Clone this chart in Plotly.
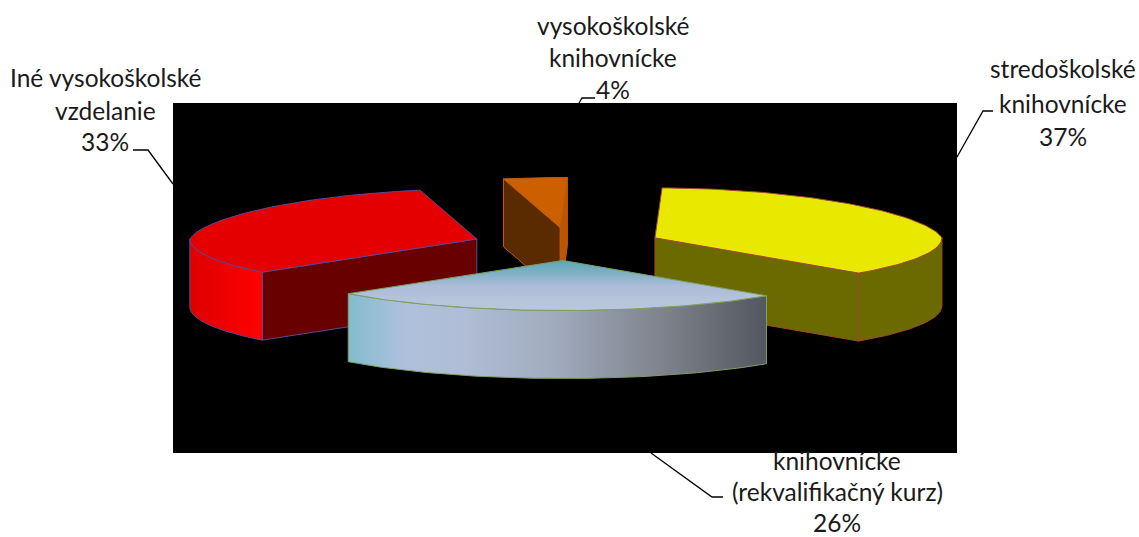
import numpy as np
import plotly.graph_objects as go

categories = ["vysokoškolské knihovnícke", "stredoškolské knihovnícke",
              "stredoškolské knihovnícke (rekvalifikačný kurz)", "Iné vysokoškolské vzdelanie"]
values = [4, 37, 26, 33]
label_lines = [["vysokoškolské", "knihovnícke"],
               ["stredoškolské", "knihovnícke"],
               ["knihovnícke", "(rekvalifikačný kurz)"],
               ["Iné vysokoškolské", "vzdelanie"]]

# drawing geometry of the tilted, exploded pie
CX, CY, RX, RY, DEPTH, EXPLODE = 565.5, 244, 287, 50, 68, 0.33
START = -12.8
BACK_NARROW = 0.11
SLICE_SHIFT_X = [4, 1.5, 0, 1.5]
FONT = "Lato"
FS = 24.5

top_styles = [
    dict(fillcolor="#cc6000"),
    dict(fillcolor="#e8e800"),
    dict(fillgradient=dict(type="vertical", start=260, stop=312,
                           colorscale=[[0, "#5aa5b8"], [0.25, "#7fb0c4"], [0.5, "#adbcd8"], [1, "#bcc9dd"]])),
    dict(fillcolor="#e40000"),
]
arc_styles = [
    dict(fillcolor="#bb5500"),
    dict(fillcolor="#6a6a00"),
    dict(fillgradient=dict(type="horizontal", start=345, stop=764,
                           colorscale=[[0, "#7fbccc"], [0.14, "#aec0dc"], [0.28, "#b0bdd6"],
                                       [0.5, "#a0abbd"], [0.75, "#7f848e"], [1, "#545860"]])),
    dict(fillgradient=dict(type="horizontal", start=188, stop=260,
                           colorscale=[[0, "#dc0000"], [1, "#ff0000"]])),
]
start_face = ["#5a2a00", "#6a6a00", "#546070", "#680000"]
end_face = ["#bb5500", "#6a6a00", "#546070", "#680000"]
edge = ["#c05a10", "#a04a30", "#7f9f5f", "#5c4a90"]
draw_order = [3, 1, 0, 2]

bounds = START + np.concatenate([[0], np.cumsum(values)]) * 3.6
fig = go.Figure()


def pt(apex, deg):
    a = np.radians(deg)
    squeeze = 1 - BACK_NARROW * np.clip(np.cos(a), 0, None)
    return apex[0] + squeeze * RX * np.sin(a), apex[1] - RY * np.cos(a)


def poly(xs, ys, style, color, name, width=1):
    fig.add_trace(go.Scatter(x=list(xs), y=list(ys), mode="lines", fill="toself",
                             line=dict(color=color, width=width), name=name,
                             hoverinfo="name", showlegend=False, **style))


for i in draw_order:
    a0, a1 = bounds[i], bounds[i + 1]
    mid = np.radians((a0 + a1) / 2)
    apex = (CX + SLICE_SHIFT_X[i] + EXPLODE * RX * np.sin(mid), CY - EXPLODE * RY * np.cos(mid))
    name = categories[i]
    # radial faces that look towards the viewer
    for ang, col, visible in ((a0, start_face[i], np.sin(np.radians(a0)) < 0),
                              (a1, end_face[i], np.sin(np.radians(a1)) > 0)):
        if visible:
            x, y = pt(apex, ang)
            poly([apex[0], x, x, apex[0], apex[0]],
                 [apex[1], y, y + DEPTH, apex[1] + DEPTH, apex[1]],
                 dict(fillcolor=col), edge[i], name)
    # outer rim, front half only
    lo, hi = max(a0, 90), min(a1, 270)
    if hi > lo:
        t = np.linspace(lo, hi, 60)
        x, y = pt(apex, t)
        poly(np.r_[x, x[::-1], x[0]], np.r_[y, y[::-1] + DEPTH, y[0]],
             arc_styles[i], edge[i], name)
    # top
    t = np.linspace(a0, a1, 90)
    x, y = pt(apex, t)
    poly(np.r_[apex[0], x, apex[0]], np.r_[apex[1], y, apex[1]],
         top_styles[i], edge[i], name)

shapes = [dict(type="rect", x0=173, x1=957, y0=103, y1=453, fillcolor="black",
               line=dict(width=0), layer="below")]
for path in ("M133,150 L148,150 L173,184", "M993,111 L983,111 L957,157",
             "M595,98 L582,98 L579,103", "M651,453 L712,497 L723,497"):
    shapes.append(dict(type="path", path=path, line=dict(color="black", width=1.3)))

positions = [(613, [25, 57, 89]), (1063, [68, 103, 136]),
             (837, [460, 491, 522]), (105, [77, 110, 141])]
annotations = []
for lines, v, (x, ys) in zip(label_lines, values, positions):
    for text, y in zip(lines + [f"{v}%"], ys):
        annotations.append(dict(x=x, y=y, text=text, showarrow=False, xanchor="center", yanchor="middle",
                                font=dict(family=FONT, size=FS, color="#1a1a1a")))

fig.update_layout(width=1139, height=537, margin=dict(l=0, r=0, t=0, b=0),
                  paper_bgcolor="white", plot_bgcolor="white", showlegend=False,
                  xaxis=dict(range=[0, 1139], visible=False, fixedrange=True),
                  yaxis=dict(range=[537, 0], visible=False, fixedrange=True),
                  shapes=shapes, annotations=annotations)
fig.write_html("out.html", config={"displayModeBar": False},
               post_script="document.body.style.margin='0';document.body.style.overflow='hidden';")
